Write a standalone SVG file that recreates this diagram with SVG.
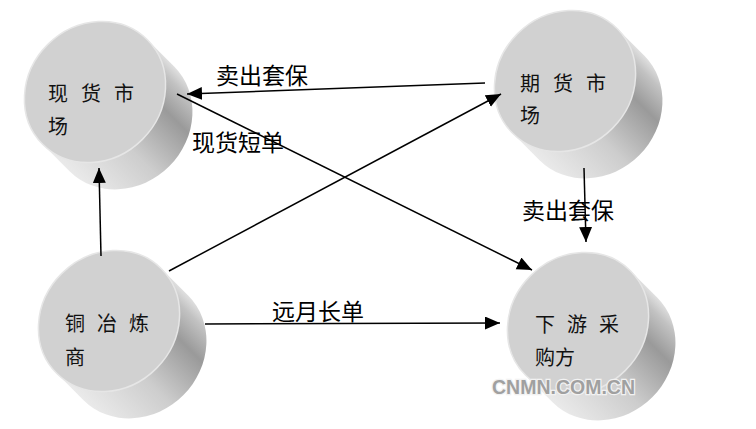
<svg xmlns="http://www.w3.org/2000/svg" width="756" height="429" viewBox="0 0 756 429">
<style>
.face{fill:#d1d1d1;stroke:#e6e6e6;stroke-width:1.5}
.side{fill:url(#sideGrad)}
.nt{font-family:"Noto Sans CJK SC","Liberation Sans",sans-serif;font-size:20px;fill:#111}
.et{font-family:"Noto Sans CJK SC","Liberation Sans",sans-serif;font-size:23px;fill:#000}
.conn{stroke:#000;stroke-width:1.5;fill:none;marker-end:url(#ah)}
.wm{font-family:"Liberation Sans",Arial,sans-serif;font-weight:bold;font-size:19.5px;fill:#a0a0a0;stroke:#f2f2f2;stroke-width:2.5;paint-order:stroke}
</style>
<defs>
<linearGradient id="sideGrad" gradientUnits="userSpaceOnUse" x1="-74" y1="0" x2="74" y2="0">
<stop offset="0" stop-color="#eaeaea"/>
<stop offset="0.4" stop-color="#cdcdcd"/>
<stop offset="0.75" stop-color="#9a9a9a"/>
<stop offset="0.92" stop-color="#c2c2c2"/>
<stop offset="1" stop-color="#e0e0e0"/>
</linearGradient>
<g id="cyl">
<path class="side" d="M-74,0 L-74,38 A74 67 0 0 0 74,38 L74,0 Z"/>
<ellipse class="face" cx="0" cy="0" rx="74" ry="67"/>
</g>
<marker id="ah" markerUnits="userSpaceOnUse" markerWidth="16" markerHeight="14" refX="15" refY="6.5" orient="auto">
<path d="M0,0 L15,6.5 L0,13 Z" fill="#000"/>
</marker>
</defs>
<rect width="756" height="429" fill="#fff"/>
<g id="node-spot">
<use href="#cyl" transform="translate(95,92) rotate(-45)"/>
<text class="nt" x="48 81 114" y="101">现货市</text>
<text class="nt" x="48" y="134">场</text>
</g>
<g id="node-futures">
<use href="#cyl" transform="translate(565,81) rotate(-45)"/>
<text class="nt" x="520 553 586" y="91">期货市</text>
<text class="nt" x="520" y="123">场</text>
</g>
<g id="node-smelter">
<use href="#cyl" transform="translate(109,321) rotate(-45)"/>
<text class="nt" x="65 97 129" y="331">铜冶炼</text>
<text class="nt" x="65" y="365">商</text>
</g>
<g id="node-buyer">
<use href="#cyl" transform="translate(578,323) rotate(-45)"/>
<text class="nt" x="535 567 599" y="332">下游采</text>
<text class="nt" x="535" y="365">购方</text>
</g>
<g id="connectors">
<line class="conn" x1="485" y1="83" x2="187" y2="94"/>
<line class="conn" x1="177" y1="94" x2="532" y2="270"/>
<line class="conn" x1="169" y1="271" x2="501" y2="94"/>
<line class="conn" x1="101" y1="256" x2="99" y2="168"/>
<line class="conn" x1="205" y1="324" x2="500" y2="323"/>
<line class="conn" x1="584" y1="168" x2="586" y2="242"/>
<text class="et" x="216" y="84">卖出套保</text>
<text class="et" x="192" y="151">现货短单</text>
<text class="et" x="522" y="219">卖出套保</text>
<text class="et" x="272" y="320">远月长单</text>
</g>
<text class="wm" x="492" y="394">CNMN.COM.CN</text>
</svg>
